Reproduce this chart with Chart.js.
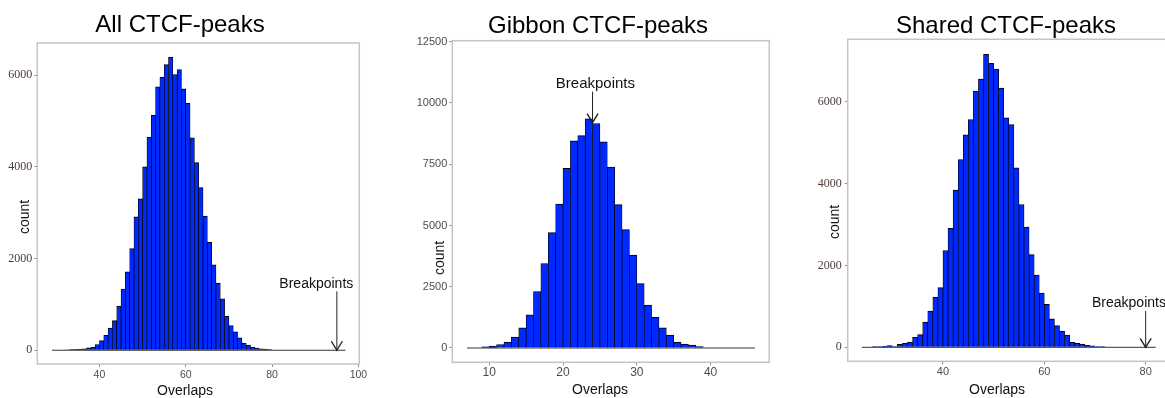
<!DOCTYPE html>
<html>
<head>
<meta charset="utf-8">
<script src="https://cdn.jsdelivr.net/npm/chart.js@4.4.1/dist/chart.umd.min.js"></script>
<style>
  html, body { margin:0; padding:0; background:#fff; overflow:hidden; }
  #wrap { position:relative; width:1165px; height:398px; }
  canvas { position:absolute; top:0; }
</style>
</head>
<body>
<div id="wrap">
  <canvas id="allChart" width="380" height="398" style="left:-10px"></canvas>
  <canvas id="gibbonChart" width="400" height="398" style="left:384px"></canvas>
  <canvas id="sharedChart" width="400" height="398" style="left:790px"></canvas>
</div>
<script>
// histogram bins (left edge, width 1) and counts per panel
const allBins = [29,30,31,32,33,34,35,36,37,38,39,40,41,42,43,44,45,46,47,48,49,50,51,52,53,54,55,56,57,58,59,60,61,62,63,
  64,65,66,67,68,69,70,71,72,73,74,75,76,77,78,79,80,81,82,83,84,85,86,87,88,89,90,91,92,93,94,95,96];
const allCounts = [0,0,10,5,15,20,25,30,50,65,125,210,325,486,645,962,1335,1708,2216,2912,3301,4000,4643,5122,5746,5949,6228,6385,
  6014,6123,5700,5383,4632,4092,3545,2924,2355,1861,1466,1120,740,540,400,272,152,115,65,47,32,25,15,0,10,
  0,0,0,0,0,0,0,0,0,0,0,0,0,0,0];

const gibbonBins = [7,8,9,10,11,12,13,14,15,16,17,18,19,20,21,22,23,24,25,26,27,28,29,30,31,32,33,34,35,36,37,38,39,40,41,42,43,44,45];
const gibbonCounts = [0,0,48,75,143,238,442,823,1353,2305,3448,4706,5869,7330,8453,8664,9350,9160,8412,7386,5849,4829,3795,2625,
  1748,1251,823,524,231,163,115,54,0,0,0,0,0,0,0];

const sharedBins = [24,25,26,27,28,29,30,31,32,33,34,35,36,37,38,39,40,41,42,43,44,45,46,47,48,49,50,51,52,53,54,55,56,57,58,59,
  60,61,62,63,64,65,66,67,68,69,70,71,72,73,74,75,76,77,78,79,80,81];
const sharedCounts = [0,0,16,16,24,41,16,73,98,130,244,309,615,888,1222,1458,2365,2907,3844,4588,5191,5566,6262,6555,7158,6938,
  6795,6331,5606,5443,4385,3489,2935,2263,1762,1323,1051,696,529,395,301,122,98,81,49,33,16,16,0,0,0,0,0,0,0,0,0,0];

// axis ticks
const allXTicks = [40,60,80,100];
const allYTicks = [0,2000,4000,6000];
const gibbonXTicks = [10,20,30,40];
const gibbonYTicks = [0,2500,5000,7500,10000,12500];
const sharedXTicks = [40,60,80];
const sharedYTicks = [0,2000,4000,6000];

// observed breakpoint overlaps: [x, arrow start count, arrow end count]
const allBreak = [95,1284,0];
const gibbonBreak = [24,10460,9194];
const sharedBreak = [80,890,0];

const BAR_FILL = "#0029ff";
const SANS = "'Liberation Sans', Arial, sans-serif";
const SERIF = "'Liberation Serif', 'Times New Roman', serif";

// panel border, titles and the breakpoint arrow
const decor = {
  id: "decor",
  afterDatasetsDraw(chart, args, o){
    const {ctx, chartArea:a, scales:{x, y}} = chart;
    const cx = (a.left + a.right) / 2;
    ctx.save();
    ctx.strokeStyle = "#c4c4c4";
    ctx.lineWidth = 1.5;
    ctx.strokeRect(a.left, a.top, a.right - a.left, a.bottom - a.top);

    const bx = x.getPixelForValue(o.mark[0]);
    const y0 = y.getPixelForValue(o.mark[1]);
    const y1 = y.getPixelForValue(o.mark[2]);
    ctx.strokeStyle = "#222";
    ctx.lineWidth = 1;
    ctx.beginPath();
    ctx.moveTo(bx, y0); ctx.lineTo(bx, y1);
    ctx.stroke();
    ctx.lineWidth = 1.4;
    ctx.beginPath();
    ctx.moveTo(bx - 5.5, y1 - 9); ctx.lineTo(bx, y1); ctx.lineTo(bx + 5.5, y1 - 9);
    ctx.stroke();

    ctx.fillStyle = "#111";
    ctx.font = o.labelSize + "px " + SANS;
    ctx.textAlign = "center";
    ctx.textBaseline = "middle";
    ctx.fillText("Breakpoints", x.getPixelForValue(o.labelAt[0]), y.getPixelForValue(o.labelAt[1]));

    // main title
    ctx.fillStyle = "#000";
    ctx.font = "24px " + SANS;
    ctx.textBaseline = "alphabetic";
    ctx.fillText(o.title, cx + o.titlePos[0], o.titlePos[1]);

    // axis titles
    ctx.fillStyle = "#111";
    ctx.font = "14px " + SANS;
    ctx.fillText("Overlaps", cx + o.xTitle[0], a.bottom + o.xTitle[1]);
    ctx.translate(a.left + o.yTitle[0], (a.top + a.bottom) / 2 + o.yTitle[1]);
    ctx.rotate(-Math.PI / 2);
    ctx.textBaseline = "middle";
    ctx.fillText("count", 0, 0);
    ctx.restore();
  }
};

function histChart(id, p){
  const last = p.bins[p.bins.length - 1] + 1;
  return new Chart(document.getElementById(id), {
    type: "bar",
    data: {
      datasets: [
        {
          type: "line",
          data: [{x: p.bins[0], y: 0}, {x: last, y: 0}],
          borderColor: "#333",
          borderWidth: 1,
          pointRadius: 0,
          order: 0
        },
        {
          data: p.bins.map((b, i) => ({x: b + 0.5, y: p.counts[i]})),
          backgroundColor: BAR_FILL,
          borderColor: "#000",
          borderWidth: {top: 1, left: 0.7, right: 0.7, bottom: 0},
          barPercentage: 1,
          categoryPercentage: 1,
          order: 1
        }
      ]
    },
    plugins: [decor],
    options: {
      responsive: false,
      animation: false,
      layout: { autoPadding: false, padding: {left: 0, right: p.padRight, top: p.padTop, bottom: 0} },
      scales: {
        x: {
          type: "linear", min: p.xRange[0], max: p.xRange[1], offset: false,
          afterFit: s => { s.height = p.xAxisH; },
          afterBuildTicks: s => { s.ticks = p.xTicks.map(v => ({value: v})); },
          grid: { offset: false, drawOnChartArea: false, tickLength: 3, color: "#8f8f8f" },
          border: { display: false },
          ticks: { font: {family: SANS, size: p.xTickSize}, color: "#4d4d4d", padding: p.xTickPad,
                   autoSkip: false, maxRotation: 0, callback: v => String(v) }
        },
        y: {
          type: "linear", min: p.yRange[0], max: p.yRange[1],
          afterFit: s => { s.width = p.yAxisW; },
          afterBuildTicks: s => { s.ticks = p.yTicks.map(v => ({value: v})); },
          grid: { drawOnChartArea: false, tickLength: 3, color: "#8f8f8f" },
          border: { display: false },
          ticks: { font: {family: p.yTickFont, size: p.yTickSize}, color: p.yTickColor, padding: p.yTickPad,
                   autoSkip: false, callback: v => String(v) }
        }
      },
      plugins: {
        legend: { display: false },
        tooltip: { enabled: false },
        title: { display: false },
        decor: {
          title: p.title, titlePos: p.titlePos,
          mark: p.mark, labelAt: p.labelAt, labelSize: p.labelSize,
          xTitle: p.xTitle, yTitle: p.yTitle
        }
      }
    }
  });
}

histChart("allChart", {
  title: "All CTCF-peaks", titlePos: [-18.3, 32],
  bins: allBins, counts: allCounts, xTicks: allXTicks, yTicks: allYTicks,
  xRange: [25.6, 100.2], yRange: [-300, 6700],
  padTop: 43, yAxisW: 47.3, xAxisH: 34, padRight: 10.7,
  xTickSize: 10.5, xTickPad: 1.5,
  yTickFont: SERIF, yTickSize: 12, yTickColor: "#4d3b36", yTickPad: 2,
  mark: allBreak, labelAt: [90.24, 1447], labelSize: 14,
  xTitle: [-13.3, 30.5], yTitle: [-12.3, 13.5]
});

histChart("gibbonChart", {
  title: "Gibbon CTCF-peaks", titlePos: [-12.8, 33],
  bins: gibbonBins, counts: gibbonCounts, xTicks: gibbonXTicks, yTicks: gibbonYTicks,
  xRange: [5.0, 47.95], yRange: [-584, 12541],
  padTop: 40.7, yAxisW: 68.3, xAxisH: 35.7, padRight: 14.7,
  xTickSize: 12, xTickPad: 0,
  yTickFont: SANS, yTickSize: 11, yTickColor: "#4d4d4d", yTickPad: 2,
  mark: gibbonBreak, labelAt: [24.39, 10761], labelSize: 15,
  xTitle: [-10.8, 31.7], yTitle: [-12.3, 56.5]
});

histChart("sharedChart", {
  title: "Shared CTCF-peaks", titlePos: [-3.1, 33],
  bins: sharedBins, counts: sharedCounts, xTicks: sharedXTicks, yTicks: sharedYTicks,
  xRange: [21.2, 84.9], yRange: [-342, 7525],
  padTop: 39.3, yAxisW: 57.7, xAxisH: 36.7, padRight: 19.5,
  xTickSize: 11, xTickPad: 0.8,
  yTickFont: SERIF, yTickSize: 12, yTickColor: "#4d3b36", yTickPad: 3,
  mark: sharedBreak, labelAt: [76.7, 1075], labelSize: 14,
  xTitle: [-12, 32.2], yTitle: [-12.7, 21.7]
});
</script>
</body>
</html>
